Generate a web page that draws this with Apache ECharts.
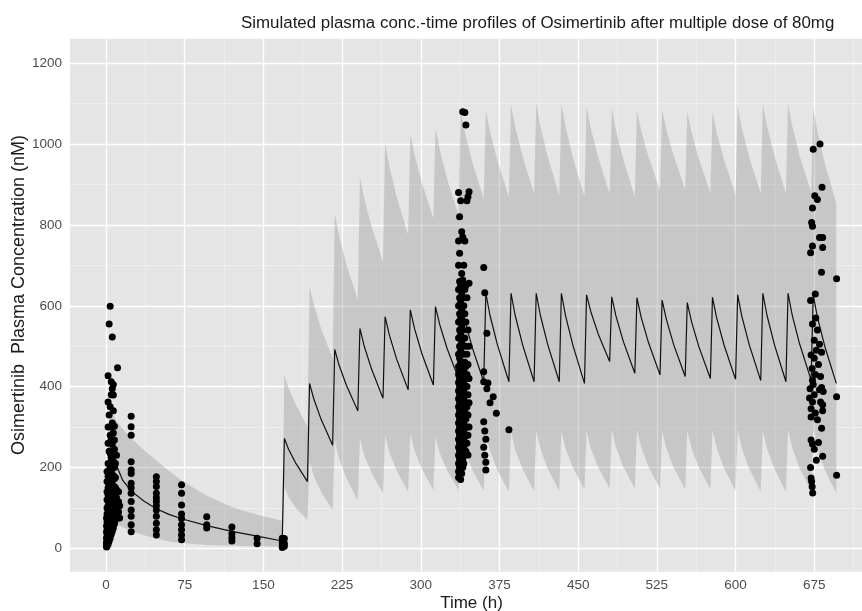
<!DOCTYPE html>
<html>
<head>
<meta charset="utf-8">
<script src="https://cdn.jsdelivr.net/npm/echarts@6/dist/echarts.min.js"></script>
<style>
html,body{margin:0;padding:0;background:#fff;}
#chart{width:862px;height:611px;}
</style>
</head>
<body>
<div id="chart"></div>
<script>
// ---- axis ticks ----
const xTicks = [0, 75, 150, 225, 300, 375, 450, 525, 600, 675];
const xMinor = [37.5, 112.5, 187.5, 262.5, 337.5, 412.5, 487.5, 562.5, 637.5, 712.5];
const yTicks = [0, 200, 400, 600, 800, 1000, 1200];
const yMinor = [100, 300, 500, 700, 900, 1100];

// ---- simulated profile: time (h), median, lower and upper prediction bound (nM) ----
const simTime = [0,1,2,4,6,10,16,24,36,48,60,72,96,120,144,168,
  170,174,181,192, 194,198,205,216, 218,222,229,240, 242,246,253,264, 266,270,277,288,
  290,294,301,312, 314,318,325,336, 338,342,349,360, 362,366,373,384, 386,390,397,408,
  410,414,421,432, 434,438,445,456, 458,462,469,480, 482,486,493,504, 506,510,517,528,
  530,534,541,552, 554,558,565,576, 578,582,589,600, 602,606,613,624, 626,630,637,648,
  650,654,661,672, 674,678,685,696];
const simMedian = [0,120,205,250,238,205,168,142,117,98,84,73,56,42,30,18,
  272,245,210,165, 408,370,319,255, 492,454,404,340, 544,501,444,371, 573,528,468,392,
  590,544,482,404, 598,554,495,420, 615,564,497,412, 631,576,504,412, 631,576,504,412,
  631,576,504,412, 631,575,502,408, 627,586,531,462, 622,575,512,433, 620,572,509,429,
  614,567,504,425, 608,561,499,420, 621,570,503,418, 627,574,504,415, 631,576,504,412,
  631,577,506,416, 627,572,500,408];
const simUpper = [0,190,290,345,335,315,295,272,243,217,192,168,130,102,83,68,
  429,397,355,301, 647,603,544,470, 829,775,704,614, 919,866,797,709, 1002,945,870,775,
  1027,974,905,816, 1041,987,915,824, 1085,1030,957,865, 1084,1030,960,870, 1097,1042,970,878,
  1101,1044,969,874, 1101,1043,967,870, 1093,1039,968,878, 1089,1034,962,870, 1084,1034,969,886,
  1085,1036,971,888, 1080,1030,964,880, 1080,1029,961,875, 1093,1039,968,878, 1100,1045,971,878,
  1100,1045,972,880, 1090,1031,953,853];
const simLower = [0,15,40,62,65,60,52,43,32,24,17,13,8,6,5,4,
  152,127,100,70, 214,178,139,95, 268,223,174,119, 272,231,186,136, 280,238,192,140,
  284,242,196,144, 276,236,193,144, 284,241,195,142, 284,241,193,140, 288,244,196,142,
  290,246,197,142, 290,246,199,145, 290,247,201,148, 293,250,202,148, 293,250,202,148,
  291,248,200,146, 291,248,200,146, 293,248,198,142, 293,247,197,140, 291,246,196,140,
  293,248,198,142, 293,246,194,136];

// ---- observed concentrations [time (h), conc (nM)] ----
const obsWeek1 = [
  [0.5,3],[0.5,8],[0.5,15],[0.5,25],[0.5,40],[0.5,55],[0.5,75],
  [1,5],[1,12],[1,30],[1,45],[1,65],[1,85],[1,100],[1,120],[1,140],[1,165],[1,190],
  [2,10],[2,22],[2,38],[2,55],[2,72],[2,90],[2,105],[2,118],[2,132],[2,150],[2,178],[2,210],[2,260],[2,300],[2,362],[2,427],
  [3,18],[3,32],[3,50],[3,66],[3,82],[3,98],[3,112],[3,126],[3,140],[3,158],[3,185],[3,240],[3,330],[3,555],
  [4,25],[4,45],[4,62],[4,78],[4,94],[4,108],[4,122],[4,136],[4,150],[4,170],[4,200],[4,235],[4,280],[4,350],[4,599],
  [5,35],[5,55],[5,72],[5,88],[5,104],[5,118],[5,132],[5,146],[5,162],[5,190],[5,225],[5,270],[5,300],[5,380],[5,412],
  [6,42],[6,65],[6,82],[6,98],[6,112],[6,126],[6,142],[6,158],[6,175],[6,205],[6,258],[6,310],[6,395],[6,523],
  [7,50],[7,75],[7,92],[7,108],[7,122],[7,138],[7,155],[7,180],[7,215],[7,285],[7,340],[7,379],[7,405],
  [8,60],[8,85],[8,102],[8,118],[8,135],[8,152],[8,172],[8,200],[8,245],[8,268],[8,302],
  [9,70],[9,95],[9,112],[9,130],[9,150],[9,175],[9,210],
  [10,80],[10,105],[10,125],[10,145],[10,230],[11,447],[12,90],[12,115],[12,140],[13,75],[13,105],
  [24,327],[24,301],[24,280],[24,214],[24,194],[24,185],[24,161],[24,150],[24,136],[24,116],[24,95],[24,79],[24,58],[24,41],
  [48,177],[48,165],[48,153],[48,136],[48,125],[48,116],[48,105],[48,95],[48,79],[48,62],[48,46],[48,33],
  [72,157],[72,136],[72,107],[72,85],[72,74],[72,58],[72,46],[72,33],[72,21],
  [96,78],[96,58],[96,50],
  [120,53],[120,36],[120,26],[120,18],
  [144,25],[144,11],
  [168,2],[168,8],[168,14],[168,20],[168,25],[170,5],[170,12],[170,24]
];
const obsDay14 = [
  [336,175],[336,190],[336,210],[336,230],[336,250],[336,270],[336,290],[336,310],[336,330],[336,350],[336,370],[336,390],[336,410],[336,430],[336,450],[336,480],[336,520],[336,560],[336,600],[336,640],[336,700],[336,760],[336,880],
  [337,180],[337,200],[337,220],[337,240],[337,260],[337,280],[337,300],[337,320],[337,340],[337,360],[337,380],[337,400],[337,420],[337,440],[337,470],[337,500],[337,540],[337,580],[337,620],[337,660],[337,730],[337,820],
  [338,170],[338,195],[338,215],[338,235],[338,255],[338,275],[338,295],[338,315],[338,335],[338,355],[338,375],[338,395],[338,415],[338,435],[338,460],[338,490],[338,530],[338,570],[338,610],[338,650],[338,860],[340,1080],
  [339,185],[339,205],[339,225],[339,245],[339,265],[339,285],[339,305],[339,325],[339,345],[339,365],[339,385],[339,405],[339,425],[339,445],[339,510],[339,550],[339,590],[339,630],[339,680],[339,783],[342,1078],
  [340,200],[340,220],[340,240],[340,260],[340,280],[340,300],[340,320],[340,340],[340,360],[340,380],[340,400],[340,420],[340,455],[340,500],[340,540],[340,620],[340,664],[340,770],
  [341,210],[341,250],[341,270],[341,290],[341,310],[341,330],[341,350],[341,370],[341,390],[341,410],[341,440],[341,480],[341,560],[341,600],[341,700],[343,1047],
  [342,230],[342,260],[342,300],[342,340],[342,380],[342,420],[342,460],[342,520],[342,580],[342,640],[342,760],[346,882],
  [343,240],[343,280],[343,320],[343,360],[343,400],[343,450],[343,500],[343,560],[343,650],[345,870],
  [344,260],[344,300],[344,350],[344,400],[344,430],[344,480],[344,620],[344,860],
  [345,231],[345,280],[345,330],[345,380],[345,455],[345,540],[346,656],
  [346,300],[346,360],[346,420],[346,500],
  [360,695],[361,632],[363,532],[360,437],[360,412],[360,313],[361,290],[362,270],[360,250],[361,230],[362,213],[362,194],
  [364,409],[363,395],[369,375],[366,360],[372,334],[384,293]
];
const obsDay28 = [
  [680.5,1000],[674,987],[682.4,893],[675.5,872],[678,863],[673.3,842],[672.5,806],[673.3,797],[680,769],[683,769],[683,744],[673.3,748],[671.5,731],
  [681.9,683],[696.3,667],[676,629],[671.5,613],[676.5,570],[673.3,555],[678,540],[675,515],[680,505],[677,490],[682,485],[672,478],[675,470],
  [673,445],[679,455],[676,430],[681,425],[671,395],
  [673.3,416],[674,405],[682,398],[680,392],[683.5,388],[675,380],[670.5,372],[673.3,362],[681,362],[683,355],[672,345],[676,335],[683,340],[672,325],[678,318],
  [696.3,375],[682,297],[672,268],[673.3,258],[679,262],[675,245],[683,228],[677,218],[671.5,200],[672,174],[672.5,165],[673,152],[673.5,137],[696.3,181]
];

const chart = echarts.init(document.getElementById('chart'), null, {renderer: 'canvas'});
const FONT = "'Liberation Sans', Arial, Helvetica, sans-serif";

function vLines(vals){ return vals.map(v => ({xAxis: v})); }
function hLines(vals){ return vals.map(v => ({yAxis: v})); }

const option = {
  animation: false,
  backgroundColor: '#ffffff',
  title: {
    text: 'Simulated plasma conc.-time profiles of Osimertinib after multiple dose of 80mg',
    left: 236, top: 10,
    textStyle: {fontFamily: FONT, fontSize: 16.9, fontWeight: 'normal', color: '#1a1a1a'}
  },
  graphic: [
    {type: 'text', x: 471.5, y: 603.3, silent: true,
     style: {text: 'Time (h)', fontFamily: FONT, fontSize: 17, fill: '#1a1a1a', align: 'center', verticalAlign: 'middle'}},
    {type: 'text', x: 19.5, y: 295, rotation: Math.PI / 2, silent: true,
     style: {text: 'Osimertinib  Plasma Concentration (nM)', fontFamily: FONT, fontSize: 18, fill: '#1a1a1a', align: 'center', verticalAlign: 'middle'}}
  ],
  grid: {
    left: 70, right: 0, top: 38.7, bottom: 39.3,
    containLabel: false, outerBoundsMode: 'none',
    show: true, backgroundColor: '#e5e5e5', borderWidth: 0
  },
  xAxis: {
    type: 'value', min: -34.3, max: 720.5,
    axisLine: {show: false},
    axisTick: {show: true, customValues: xTicks, length: 4, lineStyle: {color: '#333333', width: 1}},
    axisLabel: {customValues: xTicks, formatter: v => String(v), fontFamily: FONT, fontSize: 13.5, color: '#4d4d4d', margin: 7},
    splitLine: {show: false}
  },
  yAxis: {
    type: 'value', min: -57.9, max: 1260.8,
    axisLine: {show: false},
    axisTick: {show: true, customValues: yTicks, length: 4, lineStyle: {color: '#333333', width: 1}},
    axisLabel: {customValues: yTicks, formatter: v => String(v), fontFamily: FONT, fontSize: 13.5, color: '#4d4d4d', margin: 8},
    splitLine: {show: false}
  },
  series: [
    { // minor grid
      type: 'line', data: [], z: 1, silent: true,
      markLine: {
        z: 1, silent: true, symbol: ['none', 'none'], label: {show: false}, animation: false,
        lineStyle: {color: '#f2f2f2', width: 0.7, type: 'solid'},
        emphasis: {disabled: true},
        data: vLines(xMinor).concat(hLines(yMinor))
      }
    },
    { // major grid
      type: 'line', data: [], z: 1, silent: true,
      markLine: {
        z: 1, silent: true, symbol: ['none', 'none'], label: {show: false}, animation: false,
        lineStyle: {color: '#ffffff', width: 1.3, type: 'solid'},
        emphasis: {disabled: true},
        data: vLines(xTicks).concat(hLines(yTicks))
      }
    },
    { // prediction band
      type: 'custom', z: 2, silent: true, clip: true,
      data: [[0, 0]],
      renderItem: function (params, api) {
        const pts = [];
        for (let i = 0; i < simTime.length; i++) pts.push(api.coord([simTime[i], simUpper[i]]));
        for (let i = simTime.length - 1; i >= 0; i--) pts.push(api.coord([simTime[i], simLower[i]]));
        return {type: 'polygon', shape: {points: pts}, style: {fill: 'rgba(140,140,140,0.33)'}};
      }
    },
    { // median
      type: 'line', z: 3, silent: true, showSymbol: false, smooth: false,
      data: simTime.map((t, i) => [t, simMedian[i]]),
      lineStyle: {color: '#111111', width: 1.2}
    },
    { // observed
      type: 'scatter', z: 4, silent: true, symbolSize: 7,
      data: obsWeek1.concat(obsDay14, obsDay28),
      itemStyle: {color: '#000000', opacity: 1, borderWidth: 0}
    }
  ]
};
chart.setOption(option);
</script>
</body>
</html>
